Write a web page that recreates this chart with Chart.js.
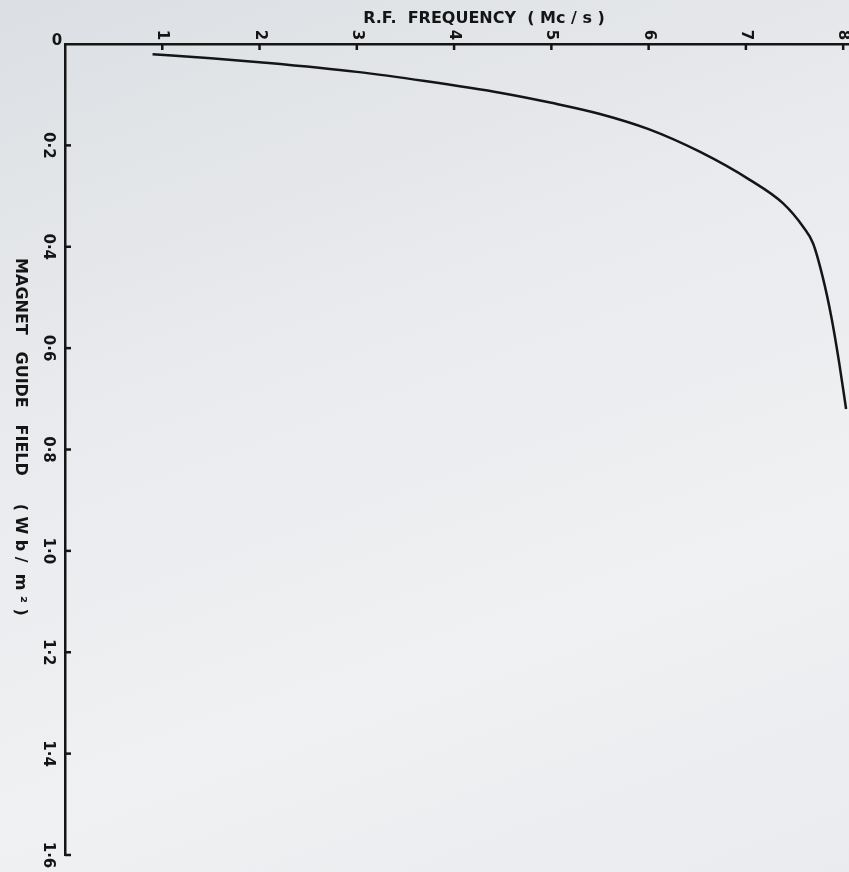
<!DOCTYPE html>
<html>
<head>
<meta charset="utf-8">
<script src="https://cdn.jsdelivr.net/npm/chart.js@4"></script>
<style>
  html, body { margin: 0; padding: 0; }
  body {
    width: 849px; height: 872px; overflow: hidden;
    background: linear-gradient(160deg, #dcdfe3 0%, #e8eaed 35%, #eff1f3 70%, #e9ebee 100%);
  }
  canvas { display: block; }
</style>
</head>
<body>
<canvas id="myChart" width="849" height="872"></canvas>
<script>
// R.F. frequency (Mc/s) against magnet guide field (Wb/m^2)
const freq  = [0.9, 1.5, 2.0, 3.0, 3.7, 4.5, 5.0, 5.5, 6.0, 6.53, 7.04, 7.38, 7.59, 7.69, 7.79, 7.88, 7.96, 8.03];
const field = [0.02, 0.028, 0.036, 0.055, 0.073, 0.097, 0.116, 0.138, 0.168, 0.213, 0.268, 0.314, 0.361, 0.393, 0.46, 0.54, 0.63, 0.72];

const freqTicks = [1, 2, 3, 4, 5, 6, 7, 8];
const fieldTicks = [0.2, 0.4, 0.6, 0.8, 1.0, 1.2, 1.4, 1.6];
const fieldLabels = ['0·2', '0·4', '0·6', '0·8', '1·0', '1·2', '1·4', '1·6'];

const ink = '#151515';
const font = '"DejaVu Sans", sans-serif';

const points = freq.map((f, i) => ({ x: f, y: field[i] }));

// tick marks, rotated labels and titles, placed with the chart's own scales
const axisDecor = {
  id: 'axisDecor',
  afterDraw(chart) {
    const ctx = chart.ctx;
    const xs = chart.scales.x, ys = chart.scales.y;
    const top = chart.chartArea.top, left = chart.chartArea.left;
    ctx.save();
    ctx.strokeStyle = ink;
    ctx.fillStyle = ink;
    ctx.lineWidth = 2.5;

    freqTicks.forEach(v => {
      const px = xs.getPixelForValue(v);
      ctx.beginPath();
      ctx.moveTo(px, top);
      ctx.lineTo(px, top + 6);
      ctx.stroke();
      ctx.save();
      ctx.translate(px, top - 9);
      ctx.rotate(Math.PI / 2);
      ctx.font = 'bold 15px ' + font;
      ctx.textAlign = 'center';
      ctx.textBaseline = 'middle';
      ctx.fillText(String(v), 0, 0);
      ctx.restore();
    });

    fieldTicks.forEach((v, i) => {
      const py = ys.getPixelForValue(v);
      ctx.beginPath();
      ctx.moveTo(left, py);
      ctx.lineTo(left + 6, py);
      ctx.stroke();
      ctx.save();
      ctx.translate(left - 17, py);
      ctx.rotate(Math.PI / 2);
      ctx.font = 'bold 15px ' + font;
      ctx.textAlign = 'center';
      ctx.textBaseline = 'middle';
      ctx.fillText(fieldLabels[i], 0, 0);
      ctx.restore();
    });

    // origin
    ctx.font = 'bold 15px ' + font;
    ctx.textAlign = 'center';
    ctx.textBaseline = 'middle';
    ctx.fillText('0', left - 8, top - 3);

    // top title
    ctx.font = 'bold 16px ' + font;
    ctx.fillText('R.F.  FREQUENCY  ( Mc / s )', 484, 19);

    // left title, reading downwards
    ctx.save();
    ctx.translate(20, 437);
    ctx.rotate(Math.PI / 2);
    ctx.font = 'bold 16px ' + font;
    ctx.fillText('MAGNET   GUIDE   FIELD     ( W b /  m ² )', 0, 0);
    ctx.restore();

    ctx.restore();
  }
};

new Chart(
  document.getElementById('myChart'),
  {
    type: 'scatter',
    data: {
      datasets: [
        {
          data: points,
          showLine: true,
          borderColor: ink,
          borderWidth: 2.5,
          pointRadius: 0,
          cubicInterpolationMode: 'monotone'
        }
      ]
    },
    options: {
      responsive: false,
      animation: false,
      layout: { padding: { left: 65, top: 44, right: 0, bottom: 17 } },
      plugins: { legend: { display: false }, tooltip: { enabled: false } },
      scales: {
        x: {
          type: 'linear',
          position: 'top',
          min: 0,
          max: 8.06,
          grid: { display: false, drawTicks: false },
          ticks: { display: false },
          border: { display: true, color: ink, width: 2.5 }
        },
        y: {
          type: 'linear',
          reverse: true,
          min: 0,
          max: 1.6,
          grid: { display: false, drawTicks: false },
          ticks: { display: false },
          border: { display: true, color: ink, width: 2.5 }
        }
      }
    },
    plugins: [axisDecor]
  }
);
</script>
</body>
</html>
